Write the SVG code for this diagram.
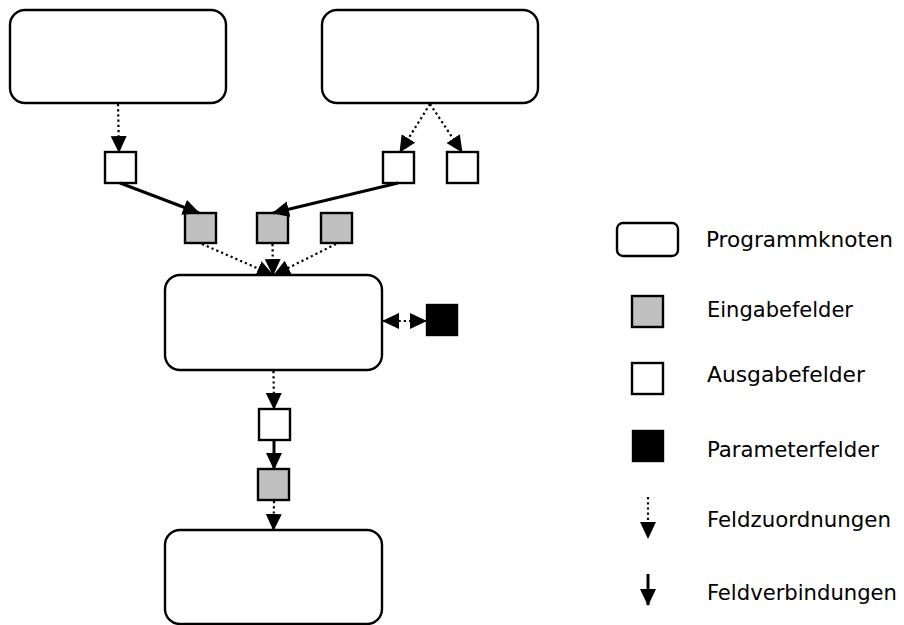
<svg xmlns="http://www.w3.org/2000/svg" width="904" height="625" viewBox="0 0 904 625">
  <style>
    .node { fill: #ffffff; stroke: #000000; stroke-width: 2.4; }
    .out { fill: #ffffff; stroke: #000000; stroke-width: 2.4; }
    .in { fill: #c0c0c0; stroke: #000000; stroke-width: 2.4; }
    .par { fill: #000000; stroke: #000000; stroke-width: 2.4; }
    .map { fill: none; stroke: #000000; stroke-width: 2.2; stroke-dasharray: 2.2 3; }
    .link { fill: none; stroke: #000000; stroke-width: 3; }
    .label { font-family: "DejaVu Sans Condensed", "Liberation Sans Narrow", "Liberation Sans", sans-serif; font-size: 21px; fill: #000000; }
  </style>
  <defs>
    <marker id="head" markerUnits="userSpaceOnUse" markerWidth="17" markerHeight="17" refX="16" refY="8.5" orient="auto-start-reverse" viewBox="0 0 17 17">
      <path d="M0,0.5 L17,8.5 L0,16.5 z" fill="#000000"/>
    </marker>
  </defs>

  <!-- program nodes -->
  <g id="node-source-a"><rect class="node" x="10" y="10" width="216" height="93" rx="15" ry="15"/></g>
  <g id="node-source-b"><rect class="node" x="322" y="10" width="216" height="93" rx="15" ry="15"/></g>
  <g id="node-target"><rect class="node" x="165" y="275" width="217" height="95" rx="15" ry="15"/></g>
  <g id="node-final"><rect class="node" x="165" y="530" width="217" height="94" rx="15" ry="15"/></g>

  <!-- output fields -->
  <g id="out-a"><rect class="out" x="105" y="152" width="31" height="31"/></g>
  <g id="out-b1"><rect class="out" x="383" y="152" width="31" height="31"/></g>
  <g id="out-b2"><rect class="out" x="447" y="152" width="31" height="31"/></g>
  <g id="out-target"><rect class="out" x="259" y="409" width="31" height="31"/></g>

  <!-- input fields -->
  <g id="in-1"><rect class="in" x="185" y="213" width="31" height="30"/></g>
  <g id="in-2"><rect class="in" x="257" y="213" width="31" height="30"/></g>
  <g id="in-3"><rect class="in" x="321" y="213" width="31" height="30"/></g>
  <g id="in-final"><rect class="in" x="258" y="469" width="31" height="31"/></g>

  <!-- parameter field -->
  <g id="param"><rect class="par" x="427" y="305" width="30" height="30"/></g>

  <!-- connectors -->
  <g id="connectors">
    <line class="map" x1="118" y1="104" x2="119" y2="152" marker-end="url(#head)"/>
    <line class="map" x1="430" y1="104" x2="400" y2="152" marker-end="url(#head)"/>
    <line class="map" x1="430" y1="104" x2="462" y2="152" marker-end="url(#head)"/>
    <line class="link" x1="120" y1="183" x2="199" y2="213" marker-end="url(#head)"/>
    <line class="link" x1="398" y1="183" x2="273" y2="213" marker-end="url(#head)"/>
    <line class="map" x1="202" y1="244" x2="273" y2="275" marker-end="url(#head)"/>
    <line class="map" x1="272.5" y1="244" x2="273" y2="275" marker-end="url(#head)"/>
    <line class="map" x1="336" y1="244" x2="274" y2="275" marker-end="url(#head)"/>
    <line class="map" x1="383" y1="321" x2="426" y2="321" marker-start="url(#head)" marker-end="url(#head)"/>
    <line class="map" x1="273.5" y1="371" x2="274" y2="409" marker-end="url(#head)"/>
    <line class="link" x1="274" y1="440" x2="274" y2="469" marker-end="url(#head)"/>
    <line class="map" x1="274" y1="501" x2="273.5" y2="530" marker-end="url(#head)"/>
  </g>

  <!-- legend -->
  <g id="legend">
    <rect class="node" x="617" y="223" width="61" height="33" rx="6" ry="6"/>
    <text class="label" x="706" y="247" textLength="187" lengthAdjust="spacingAndGlyphs">Programmknoten</text>
    <rect class="in" x="632" y="296" width="31" height="31"/>
    <text class="label" x="707" y="317" textLength="146" lengthAdjust="spacingAndGlyphs">Eingabefelder</text>
    <rect class="out" x="632" y="363" width="31" height="31"/>
    <text class="label" x="707" y="382" textLength="158" lengthAdjust="spacingAndGlyphs">Ausgabefelder</text>
    <rect class="par" x="633" y="431" width="30" height="30"/>
    <text class="label" x="707" y="457" textLength="172" lengthAdjust="spacingAndGlyphs">Parameterfelder</text>
    <line class="map" x1="648" y1="497" x2="648" y2="538" marker-end="url(#head)"/>
    <text class="label" x="707" y="527" textLength="184" lengthAdjust="spacingAndGlyphs">Feldzuordnungen</text>
    <line class="link" x1="648" y1="574" x2="648" y2="605" marker-end="url(#head)"/>
    <text class="label" x="707" y="600" textLength="190" lengthAdjust="spacingAndGlyphs">Feldverbindungen</text>
  </g>
</svg>
